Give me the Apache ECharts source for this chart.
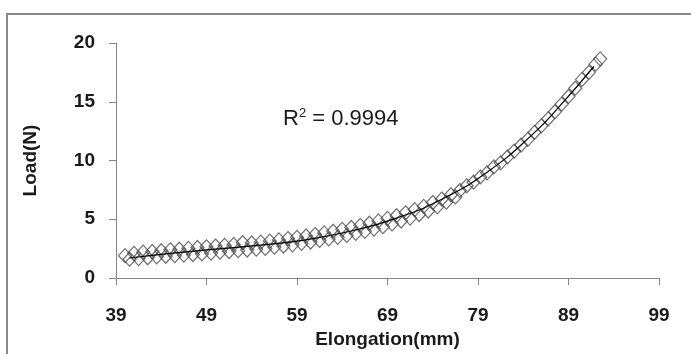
<!DOCTYPE html>
<html><head><meta charset="utf-8">
<script src="https://cdn.jsdelivr.net/npm/echarts@6/dist/echarts.min.js"></script>
<style>html,body{margin:0;padding:0;background:#fff}#c{width:691px;height:354px}</style>
</head><body><div id="c"></div>
<script>
const elongation = [40,40.5,41,41.5,42,42.5,43,43.5,44,44.5,45,45.5,46,46.5,47,47.5,48,48.5,49,49.5,50,50.5,51,51.5,52,52.5,53,53.5,54,54.5,55,55.5,56,56.5,57,57.5,58,58.5,59,59.5,60,60.5,61,61.5,62,62.5,63,63.5,64,64.5,65,65.5,66,66.5,67,67.5,68,68.5,69,69.5,70,70.5,71,71.5,72,72.5,73,73.5,74,74.5,75,75.5,76,76.5,77,77.75,78.5,79.25,80,80.75,81.5,82.25,83,83.75,84.5,85.25,86,86.75,87.5,88.25,89,89.75,90.5,91.25,92,92.5];
const load = [1.9,1.6,2.1,1.65,2.2,1.72,2.25,1.8,2.32,1.85,2.4,1.9,2.45,1.95,2.52,2.0,2.6,2.05,2.65,2.12,2.72,2.2,2.78,2.25,2.85,2.32,3.0,2.38,2.98,2.45,3.05,2.52,3.14,2.62,3.24,2.72,3.36,2.82,3.46,2.94,3.58,3.06,3.7,3.2,3.84,3.32,3.98,3.46,4.14,3.62,4.3,3.8,4.48,3.97,4.66,4.16,4.86,4.37,5.07,4.6,5.3,4.85,5.55,5.1,5.82,5.4,6.1,5.7,6.42,6.05,6.72,6.45,7.08,6.9,7.45,7.85,8.15,8.6,8.95,9.45,9.8,10.3,10.8,11.3,11.8,12.4,12.95,13.55,14.15,14.8,15.45,16.15,16.9,17.5,18.2,18.65];
const trendX = [40.5,45,50,55,60,65,70,75,80,85,88,91.8];
const trendY = [1.7,2.1,2.45,2.8,3.25,4.0,5.1,6.7,9.0,12.2,14.6,18.0];
const xTicks = [39,49,59,69,79,89,99];
const yTicks = [0,5,10,15,20];
const rSquared = '0.9994';

const chart = echarts.init(document.getElementById('c'));
const labelFont = {fontFamily:'Liberation Sans, Arial, sans-serif', fontWeight:'bold', fontSize:19, color:'#1a1a1a'};
chart.setOption({
  animation:false,
  backgroundColor:'#fff',
  graphic:[
    {type:'rect', shape:{x:7,y:14,width:720,height:400}, style:{fill:'none', stroke:'#8a8a8a', lineWidth:2}, z:-1},
    {type:'text', left:283, top:107, style:{
      text:'R{s|2} = ' + rSquared,
      rich:{s:{fontSize:13, verticalAlign:'top', padding:[0,0,10,0], fontFamily:'Liberation Sans, sans-serif', fill:'#1a1a1a'}},
      fontSize:22, fontFamily:'Liberation Sans, sans-serif', fill:'#1a1a1a'}}
  ],
  grid:{left:116, top:43, width:543, height:236},
  xAxis:{type:'value', min:39, max:99, interval:10,
    name:'Elongation(mm)', nameLocation:'middle', nameGap:52,
    nameTextStyle:labelFont,
    axisLine:{lineStyle:{color:'#868686'}},
    axisTick:{show:true, length:7, inside:false, lineStyle:{color:'#868686'}},
    axisLabel:Object.assign({margin:28, formatter:v=>xTicks.includes(v)?String(v):''}, labelFont),
    splitLine:{show:false}},
  yAxis:{type:'value', min:0, max:20, interval:5,
    name:'Load(N)', nameLocation:'middle', nameGap:76, nameRotate:90,
    nameTextStyle:labelFont,
    axisLine:{show:true, lineStyle:{color:'#868686'}},
    axisTick:{show:true, length:7, lineStyle:{color:'#868686'}},
    axisLabel:Object.assign({margin:21, formatter:v=>yTicks.includes(v)?String(v):''}, labelFont),
    splitLine:{show:false}},
  series:[
    {type:'scatter', data:elongation.map((x,i)=>[x,load[i]]), symbol:'diamond', symbolSize:[13,14],
      itemStyle:{color:'rgba(255,255,255,0)', borderColor:'#4a4a4a', borderWidth:1.2}, z:2},
    {type:'line', data:trendX.map((x,i)=>[x,trendY[i]]), smooth:true, showSymbol:false, symbol:'none',
      lineStyle:{color:'#000', width:1.2}, z:3}
  ]
});
</script></body></html>
